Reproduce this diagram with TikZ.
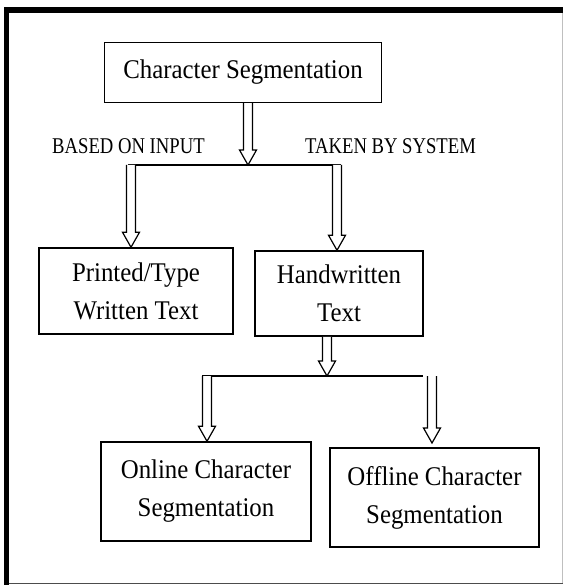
\documentclass[tikz,border=0pt]{standalone}
\usepackage{fontspec}
\setmainfont{Liberation Serif}
\newfontfamily\boxfont[FakeStretch=0.92]{Liberation Serif}
\newfontfamily\labfont[FakeStretch=0.83]{Liberation Serif}
\usetikzlibrary{calc}
\tikzset{
  box/.style={draw=black, line width=1.5pt, align=center, inner sep=0pt,
    font=\boxfont\fontsize{27}{38}\selectfont},
  lab/.style={font=\labfont\fontsize{22.5}{27}\selectfont, inner sep=0pt},
  arr/.style={draw=black, line width=1.2pt, fill=white, line join=miter},
  bar/.style={draw=black, line width=1.3pt}
}
\newcommand\harrow[2]{%
  \draw[arr] ($(#1)+(-4.5,0)$) -- ($(#2)+(-4.5,-15)$) -- ($(#2)+(-8.5,-15)$) -- (#2)
    -- ($(#2)+(8.5,-15)$) -- ($(#2)+(4.5,-15)$) -- ($(#1)+(4.5,0)$);}
\begin{document}
\begin{tikzpicture}[x=1pt,y=-1pt]
\useasboundingbox (0,0) rectangle (563,585);
% frame
\fill[black] (4,7) rectangle (563,13);
\fill[black] (4,7) rectangle (9,585);
\draw[black!70, line width=1pt] (9,583) -- (563,583);
\draw[black!25, line width=1pt] (562,13) -- (562,583);

% boxes
\node[box, minimum width=277pt, minimum height=60pt] (top) at (243,72.5) {Character Segmentation};
\node[box, minimum width=194pt, minimum height=86pt] (printed) at (136,291) {Printed/Type\\Written Text};
\node[box, minimum width=168pt, minimum height=85pt] (hand) at (339,293.5) {Handwritten\\Text};
\node[box, minimum width=210pt, minimum height=99pt] (online) at (206,491.5) {Online Character\\Segmentation};
\node[box, minimum width=209pt, minimum height=99pt] (offline) at (434.5,497.5) {Offline Character\\Segmentation};

% labels
\node[lab, anchor=base west] (lin) at (52,154) {BASED ON INPUT};
\node[lab, anchor=base west] (lsys) at (305,154) {TAKEN BY SYSTEM};

% junction coordinates
\coordinate (a1s) at (top.south -| 248,0);
\coordinate (j1) at (248,165);
\coordinate (j1l) at (131,165);
\coordinate (j1r) at (337,165);
\coordinate (t1l) at (printed.north -| 131,0);
\coordinate (t1r) at (hand.north -| 337,0);
\coordinate (a2s) at (hand.south -| 327,0);
\coordinate (j2) at (327,376);
\coordinate (j2l) at (207,376);
\coordinate (j2r) at (432,376);
\coordinate (t2l) at (online.north -| 207,0);
\coordinate (t2r) at (432,443);

% connectors
\draw[bar] ($(j1l)+(-3.5,0)$) -- ($(j1r)+(4,0)$);
\harrow{a1s}{j1}
\harrow{j1l}{t1l}
\harrow{j1r}{t1r}

\draw[bar] ($(j2l)+(-5,0)$) -- ($(j2r)+(-9,0)$);
\harrow{a2s}{j2}
\harrow{j2l}{t2l}
\harrow{j2r}{t2r}
\end{tikzpicture}
\end{document}
